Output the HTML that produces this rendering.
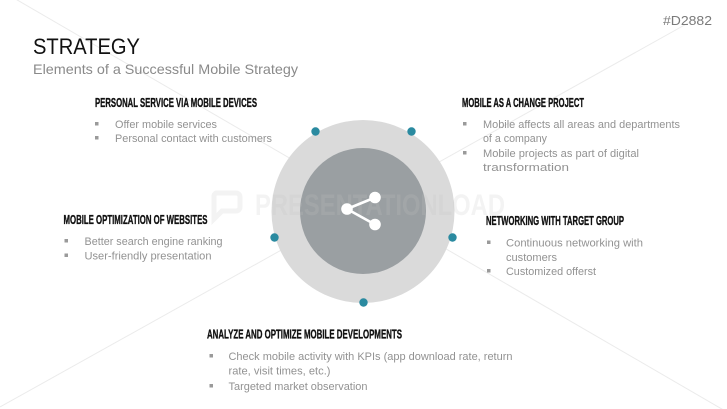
<!DOCTYPE html>
<html>
<head>
<meta charset="utf-8">
<style>
html,body{margin:0;padding:0;background:#fff;}
svg{display:block;}
text{font-family:"Liberation Sans",sans-serif;}
.h{font-weight:bold;font-size:12.5px;fill:#111;stroke:#111;stroke-width:0.35px;}
.b{font-size:11px;fill:#929292;}
.sq{fill:#9a9a9a;}
</style>
</head>
<body>
<svg width="727" height="409" viewBox="0 0 727 409" xmlns="http://www.w3.org/2000/svg">
  <rect width="727" height="409" fill="#ffffff"/>
  <!-- faint background lines -->
  <line x1="0" y1="-10" x2="727" y2="412" stroke="#ebebeb" stroke-width="1"/>
  <line x1="0" y1="407" x2="690" y2="22" stroke="#ebebeb" stroke-width="1"/>

  <!-- header -->
  <text x="663" y="25" font-size="13" fill="#7a7a7a" textLength="49" lengthAdjust="spacingAndGlyphs">#D2882</text>
  <text x="33" y="54" font-size="22" fill="#111" textLength="107" lengthAdjust="spacingAndGlyphs">STRATEGY</text>
  <text x="33" y="74" font-size="14" fill="#8a8a8a" textLength="265" lengthAdjust="spacingAndGlyphs">Elements of a Successful Mobile Strategy</text>

  <!-- circles -->
  <circle cx="363" cy="211.5" r="91.5" fill="#dadada"/>
  <circle cx="363" cy="211" r="63" fill="#9a9fa2"/>

  <!-- watermark -->
  <g opacity="0.2">
    <text x="255" y="215" font-size="30" font-weight="bold" fill="#c4c4c4" textLength="250" lengthAdjust="spacingAndGlyphs">PRESENTATIONLOAD</text>
    <path d="M216 193 h20 a4 4 0 0 1 4 4 v10 a4 4 0 0 1 -4 4 h-14 l-8 8 v-22 a4 4 0 0 1 2 -4z" fill="none" stroke="#c4c4c4" stroke-width="5"/>
  </g>

  <!-- share icon -->
  <g stroke="#ffffff" stroke-width="2.6" fill="#ffffff">
    <line x1="347" y1="209" x2="375" y2="197.5"/>
    <line x1="347" y1="209" x2="375" y2="224.5"/>
    <circle cx="347" cy="209" r="5.8" stroke="none"/>
    <circle cx="375" cy="197.5" r="5.8" stroke="none"/>
    <circle cx="375" cy="224.5" r="5.8" stroke="none"/>
  </g>

  <!-- dots -->
  <g fill="#2a8aa0">
    <circle cx="315.5" cy="131.5" r="4.2"/>
    <circle cx="411.5" cy="131.5" r="4.2"/>
    <circle cx="274.5" cy="237.5" r="4.2"/>
    <circle cx="452.5" cy="237.5" r="4.2"/>
    <circle cx="363.5" cy="302.5" r="4.2"/>
  </g>

  <!-- top-left block -->
  <text class="h" x="95" y="107" textLength="162" lengthAdjust="spacingAndGlyphs">PERSONAL SERVICE VIA MOBILE DEVICES</text>
  <rect class="sq" x="95" y="122" width="3.5" height="3.5"/>
  <text class="b" x="115" y="128" textLength="102" lengthAdjust="spacingAndGlyphs">Offer mobile services</text>
  <rect class="sq" x="95" y="136" width="3.5" height="3.5"/>
  <text class="b" x="115" y="142" textLength="157" lengthAdjust="spacingAndGlyphs">Personal contact with customers</text>

  <!-- top-right block -->
  <text class="h" x="462" y="107" textLength="122" lengthAdjust="spacingAndGlyphs">MOBILE AS A CHANGE PROJECT</text>
  <rect class="sq" x="463" y="122" width="3.5" height="3.5"/>
  <text class="b" x="483" y="128" textLength="197" lengthAdjust="spacingAndGlyphs">Mobile affects all areas and departments</text>
  <text class="b" x="483" y="142" textLength="64" lengthAdjust="spacingAndGlyphs">of a company</text>
  <rect class="sq" x="463" y="151" width="3.5" height="3.5"/>
  <text class="b" x="483" y="157" textLength="156" lengthAdjust="spacingAndGlyphs">Mobile projects as part of digital</text>
  <text class="b" x="483" y="171" textLength="86" lengthAdjust="spacingAndGlyphs">transformation</text>

  <!-- middle-left block -->
  <text class="h" x="63.5" y="224" textLength="144" lengthAdjust="spacingAndGlyphs">MOBILE OPTIMIZATION OF WEBSITES</text>
  <rect class="sq" x="64.5" y="239" width="3.5" height="3.5"/>
  <text class="b" x="84.5" y="245" textLength="138" lengthAdjust="spacingAndGlyphs">Better search engine ranking</text>
  <rect class="sq" x="64.5" y="253.5" width="3.5" height="3.5"/>
  <text class="b" x="84.5" y="259.5" textLength="127" lengthAdjust="spacingAndGlyphs">User-friendly presentation</text>

  <!-- middle-right block -->
  <text class="h" x="486" y="225" textLength="138" lengthAdjust="spacingAndGlyphs">NETWORKING WITH TARGET GROUP</text>
  <rect class="sq" x="487" y="240.5" width="3.5" height="3.5"/>
  <text class="b" x="506" y="246.5" textLength="137" lengthAdjust="spacingAndGlyphs">Continuous networking with</text>
  <text class="b" x="506" y="261" textLength="51" lengthAdjust="spacingAndGlyphs">customers</text>
  <rect class="sq" x="487" y="269" width="3.5" height="3.5"/>
  <text class="b" x="506" y="275" textLength="90" lengthAdjust="spacingAndGlyphs">Customized offerst</text>

  <!-- bottom block -->
  <text class="h" x="207" y="338.5" textLength="195" lengthAdjust="spacingAndGlyphs">ANALYZE AND OPTIMIZE MOBILE DEVELOPMENTS</text>
  <rect class="sq" x="209.5" y="354" width="3.5" height="3.5"/>
  <text class="b" x="228.5" y="360" textLength="284" lengthAdjust="spacingAndGlyphs">Check mobile activity with KPIs (app download rate, return</text>
  <text class="b" x="228.5" y="374.5" textLength="102" lengthAdjust="spacingAndGlyphs">rate, visit times, etc.)</text>
  <rect class="sq" x="209.5" y="384" width="3.5" height="3.5"/>
  <text class="b" x="228.5" y="390" textLength="139" lengthAdjust="spacingAndGlyphs">Targeted market observation</text>
</svg>
</body>
</html>
